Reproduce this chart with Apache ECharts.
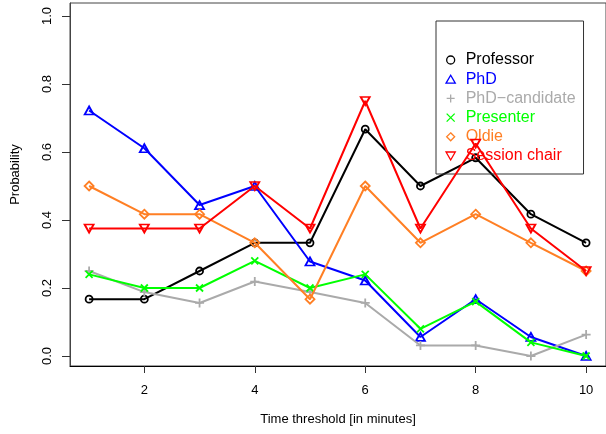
<!DOCTYPE html>
<html><head><meta charset="utf-8">
<script src="https://cdn.jsdelivr.net/npm/echarts@6/dist/echarts.min.js"></script>
<style>html,body{margin:0;padding:0;background:#fff}#c{width:606px;height:434px}</style>
</head><body><div id="c"></div>
<script>
const thresholds = [1, 2, 3, 4, 5, 6, 7, 8, 9, 10];
const professor = [0.167, 0.167, 0.25, 0.333, 0.333, 0.667, 0.5, 0.583, 0.417, 0.333];
const phd = [0.722, 0.611, 0.444, 0.5, 0.278, 0.222, 0.056, 0.167, 0.056, 0];
const phdCandidate = [0.25, 0.188, 0.156, 0.219, 0.188, 0.156, 0.031, 0.031, 0, 0.063];
const presenter = [0.24, 0.2, 0.2, 0.28, 0.2, 0.24, 0.08, 0.16, 0.04, 0];
const oldie = [0.5, 0.417, 0.417, 0.333, 0.167, 0.5, 0.333, 0.417, 0.333, 0.25];
const sessionChair = [0.375, 0.375, 0.375, 0.5, 0.375, 0.75, 0.375, 0.625, 0.375, 0.25];
const xTicks = [2, 4, 6, 8, 10];
const yTicks = [0, 0.2, 0.4, 0.6, 0.8, 1.0];
const seriesNames = ['Professor', 'PhD', 'PhD\u2212candidate', 'Presenter', 'Oldie', 'Session chair'];
const seriesValues = [professor, phd, phdCandidate, presenter, oldie, sessionChair];

const FONT = 'Liberation Sans, Arial, Helvetica, sans-serif';
const looks = [
  { color: '#000000', symbol: 'path://M0,5a5,5 0 1,0 10,0a5,5 0 1,0 -10,0', size: 7 },
  { color: '#0000ff', symbol: 'path://M0,8.66L5,0L10,8.66Z', size: [9, 8] },
  { color: '#aaaaaa', symbol: 'path://M0,5H10M5,0V10', size: 9 },
  { color: '#00ff00', symbol: 'path://M0,0L10,10M10,0L0,10', size: 7 },
  { color: '#ff7f24', symbol: 'path://M5,0L10,5L5,10L0,5Z', size: 9 },
  { color: '#ff0000', symbol: 'path://M0,0L10,0L5,8.66Z', size: [9, 8] }
];

const chart = echarts.init(document.getElementById('c'), null, { renderer: 'canvas' });
chart.setOption({
  animation: false,
  backgroundColor: '#ffffff',
  textStyle: { fontFamily: FONT },
  grid: { left: 70, top: 3, right: -3, bottom: 68, show: true, borderColor: '#444', borderWidth: 1, containLabel: false },
  xAxis: {
    type: 'value', min: 0.654, max: 10.36,
    axisLine: { show: true, onZero: false, lineStyle: { color: '#000', width: 1 } },
    axisTick: { show: true, customValues: xTicks, length: 7, lineStyle: { color: '#333' } },
    axisLabel: { customValues: xTicks, margin: 18, fontSize: 13, color: '#000', fontFamily: FONT },
    splitLine: { show: false },
    name: 'Time threshold [in minutes]', nameLocation: 'middle', nameGap: 47,
    nameTextStyle: { fontSize: 13, color: '#000', fontFamily: FONT }
  },
  yAxis: {
    type: 'value', min: -0.0294, max: 1.0382,
    axisLine: { show: true, onZero: false, lineStyle: { color: '#444', width: 1 } },
    axisTick: { show: true, customValues: yTicks, length: 8, lineStyle: { color: '#333' } },
    axisLabel: { customValues: yTicks, rotate: 90, margin: 16, fontSize: 13, color: '#000', fontFamily: FONT,
      formatter: v => Number(v).toFixed(1) },
    splitLine: { show: false },
    name: 'Probability', nameLocation: 'middle', nameGap: 48,
    nameTextStyle: { fontSize: 13, color: '#000', fontFamily: FONT, padding: [0, 0, 0, 20] }
  },
  legend: {
    orient: 'vertical', left: 436, top: 21,
    padding: [29.4, 8, 8.4, 9.4],
    borderColor: '#333', borderWidth: 1,
    itemGap: 0, itemWidth: 20, itemHeight: 8,
    selectedMode: false,
    textStyle: { fontSize: 16, lineHeight: 19.2, fontFamily: FONT },
    data: seriesNames.map((n, i) => ({
      name: n,
      icon: looks[i].symbol,
      itemStyle: { color: 'rgba(0,0,0,0)', borderColor: looks[i].color, borderWidth: 1.3 },
      textStyle: { color: looks[i].color }
    }))
  },
  series: seriesNames.map((n, i) => ({
    name: n,
    type: 'line',
    data: thresholds.map((t, k) => [t, seriesValues[i][k]]),
    symbol: looks[i].symbol,
    symbolSize: looks[i].size,
    showAllSymbol: true,
    lineStyle: { color: looks[i].color, width: 2 },
    itemStyle: { color: 'rgba(0,0,0,0)', borderColor: looks[i].color, borderWidth: 1.8 },
    emphasis: { disabled: true },
    z: 2 + i
  }))
});
</script>
</body></html>
